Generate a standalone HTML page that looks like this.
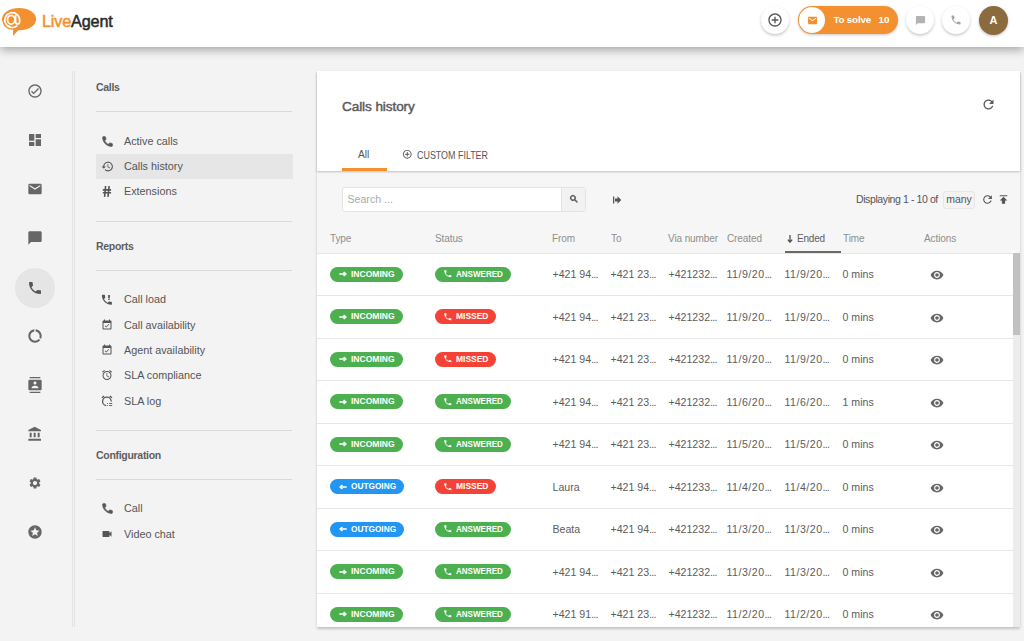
<!DOCTYPE html>
<html><head><meta charset="utf-8">
<style>
*{box-sizing:border-box;margin:0;padding:0}
html,body{width:1024px;height:641px;overflow:hidden;background:#f3f3f3;font-family:"Liberation Sans",sans-serif;color:#555}
.abs{position:absolute}
svg{display:block}
#hdr{position:absolute;left:0;top:0;width:1024px;height:46.5px;background:#fff;box-shadow:0 3px 9px rgba(0,0,0,.32);z-index:5}
.cbtn{position:absolute;top:6px;width:28px;height:28px;border-radius:50%;background:#fff;box-shadow:0 1.5px 3px rgba(0,0,0,.22)}
.cbtn svg{position:absolute}
.nav{position:absolute;left:27px;width:16px;height:16px}
.vl{position:absolute;top:71px;height:556px;width:1px;background:#e3e3e3}
.sm-h{position:absolute;left:96px;font-size:10.5px;font-weight:bold;color:#5e5e5e;letter-spacing:-0.3px}
.sm-l{position:absolute;left:96px;width:196px;height:1px;background:#d9d9d9}
.sm-i{position:absolute;left:124px;font-size:10.8px;color:#555;white-space:nowrap}
.sm-ic{position:absolute;left:101px;width:12px;height:12px}
#card{position:absolute;left:317px;top:71px;width:702.7px;height:556px;background:#f6f6f6;box-shadow:0 1.5px 2.5px rgba(0,0,0,.2)}
#chead{position:absolute;left:0;top:0;width:702.7px;height:100px;background:#fff;box-shadow:0 1px 2px rgba(0,0,0,.22)}
.th{position:absolute;top:162px;font-size:10px;color:#8e8e8e;white-space:nowrap;letter-spacing:-0.1px}
.row{position:absolute;left:0;width:696px;height:42.5px;background:#fff;border-top:1px solid #e6e6e6}
.c{position:absolute;top:14.5px;font-size:10.6px;color:#5c5c5c;white-space:nowrap}
.pill{position:absolute;top:13.2px;height:15px;border-radius:8px;color:#fff;font-size:9.8px;font-weight:bold;line-height:15px;white-space:nowrap}
.el{letter-spacing:-0.7px}
.dt{letter-spacing:0.5px}
.g{background:#4caf50}.r{background:#f44336}.b{background:#2196f3}
.pill svg{position:absolute;top:3.5px}
.pt{position:absolute;top:-0.8px;transform-origin:0 50%}
.arr{position:absolute;left:8px;top:-1px;font-size:10px;font-weight:bold}
.eye{position:absolute;left:612.5px;top:14.5px;width:14px;height:14px}
</style></head><body>

<div id="hdr">
  <svg class="abs" style="left:0;top:0" width="40" height="40" viewBox="0 0 40 40">
    <ellipse cx="19.1" cy="19.2" rx="17" ry="11.1" fill="#f39130"/>
    <circle cx="12" cy="20.2" r="9.6" fill="#f39130"/>
    <path d="M13.2 27 L21 27.5 L13 36 Z" fill="#f39130"/>
    <path d="M17.2 25.6 A7.4 7.4 0 1 1 19.6 19.6 L19.6 21.5 Q19.6 24 17.6 24 Q15.6 24 15.6 21.5 L15.6 15" fill="none" stroke="#fff" stroke-width="1.7"/>
    <ellipse cx="11.2" cy="19.7" rx="3.7" ry="4.4" fill="none" stroke="#fff" stroke-width="1.7"/>
  </svg>
  <div class="abs" style="left:42px;top:11.6px;font-size:16.2px;font-weight:normal;-webkit-text-stroke:0.5px;letter-spacing:-0.15px;white-space:nowrap"><span style="color:#f39130">Live</span><span style="color:#2a2a2a">Agent</span></div>

  <div class="cbtn" style="left:761px"><svg style="left:6px;top:6px" width="16" height="16" viewBox="0 0 24 24"><path fill="#555" d="M13 7h-2v4H7v2h4v4h2v-4h4v-2h-4V7zm-1-5C6.48 2 2 6.48 2 12s4.48 10 10 10 10-4.48 10-10S17.52 2 12 2zm0 18c-4.41 0-8-3.59-8-8s3.59-8 8-8 8 3.59 8 8-3.59 8-8 8z"/></svg></div>
  <div class="abs" style="left:797.5px;top:6px;width:100px;height:28px;border-radius:14px;background:#f39130;box-shadow:0 1px 3px rgba(0,0,0,.22)">
    <div class="abs" style="left:1.5px;top:1px;width:26px;height:26px;border-radius:50%;background:#fff"></div>
    <svg class="abs" style="left:9px;top:8.5px" width="11" height="11" viewBox="0 0 24 24"><path fill="#f39130" d="M20 4H4c-1.1 0-1.99.9-1.99 2L2 18c0 1.1.9 2 2 2h16c1.1 0 2-.9 2-2V6c0-1.1-.9-2-2-2zm0 4l-8 5-8-5V6l8 5 8-5v2z"/></svg>
    <div class="abs" style="left:36px;top:8px;font-size:9.8px;font-weight:bold;color:#fff;white-space:nowrap;letter-spacing:-0.2px">To solve</div>
    <div class="abs" style="left:81px;top:8px;font-size:9.8px;font-weight:bold;color:#fff">10</div>
  </div>
  <div class="cbtn" style="left:906px"><svg style="left:8.5px;top:8.5px" width="11" height="11" viewBox="0 0 24 24"><path fill="#b3b3b3" d="M20 2H4c-1.1 0-2 .9-2 2v18l4-4h14c1.1 0 2-.9 2-2V4c0-1.1-.9-2-2-2z"/></svg></div>
  <div class="cbtn" style="left:942px"><svg style="left:8px;top:8px" width="12" height="12" viewBox="0 0 24 24"><path fill="#a5a5a5" d="M6.62 10.79c1.44 2.83 3.76 5.14 6.59 6.59l2.2-2.2c.27-.27.67-.36 1.02-.24 1.12.37 2.330.57 3.57.57.55 0 1 .45 1 1V20c0 .55-.45 1-1 1-9.39 0-17-7.610-17-17 0-.55.45-1 1-1h3.5c.55 0 1 .45 1 1 0 1.25.2 2.45.57 3.57.11.35.03.74-.25 1.02l-2.2 2.2z"/></svg></div>
  <div class="abs" style="left:979px;top:5.5px;width:29px;height:29px;border-radius:50%;background:#8b6a3e;box-shadow:0 1px 3px rgba(0,0,0,.25);color:#fff;font-weight:bold;font-size:11px;text-align:center;line-height:29px">A</div>
</div>

<!-- left nav -->
<div class="abs" style="left:15px;top:267.5px;width:40px;height:40px;border-radius:50%;background:#e5e5e5"></div>
<svg class="nav" style="top:83px" viewBox="0 0 24 24"><path fill="#666" d="M12 2C6.48 2 2 6.48 2 12s4.48 10 10 10 10-4.48 10-10S17.52 2 12 2zm0 18c-4.41 0-8-3.59-8-8s3.59-8 8-8 8 3.59 8 8-3.59 8-8 8zm4.59-12.42L10 14.17l-2.59-2.58L6 13l4 4 8-8z"/></svg>
<svg class="nav" style="top:132px" viewBox="0 0 24 24"><path fill="#666" d="M3 13h8V3H3v10zm0 8h8v-6H3v6zm10 0h8V11h-8v10zm0-18v6h8V3h-8z"/></svg>
<svg class="nav" style="top:181px" viewBox="0 0 24 24"><path fill="#666" d="M20 4H4c-1.1 0-1.99.9-1.99 2L2 18c0 1.1.9 2 2 2h16c1.1 0 2-.9 2-2V6c0-1.1-.9-2-2-2zm0 4l-8 5-8-5V6l8 5 8-5v2z"/></svg>
<svg class="nav" style="top:230px" viewBox="0 0 24 24"><path fill="#666" d="M20 2H4c-1.1 0-2 .9-2 2v18l4-4h14c1.1 0 2-.9 2-2V4c0-1.1-.9-2-2-2z"/></svg>
<svg class="nav" style="top:279.5px" viewBox="0 0 24 24"><path fill="#555" d="M6.62 10.79c1.44 2.83 3.76 5.14 6.59 6.59l2.2-2.2c.27-.27.67-.36 1.02-.24 1.12.37 2.33.57 3.57.57.55 0 1 .45 1 1V20c0 .55-.45 1-1 1-9.39 0-17-7.61-17-17 0-.55.45-1 1-1h3.5c.55 0 1 .45 1 1 0 1.25.2 2.45.57 3.570.11.35.03.74-.25 1.02l-2.2 2.2z"/></svg>
<svg class="nav" style="top:328px" viewBox="0 0 24 24"><path fill="#666" d="M13 2.05v3.03c3.39.49 6 3.39 6 6.92 0 .9-.18 1.75-.48 2.54l2.6 1.530c.56-1.24.88-2.62.88-4.07 0-5.18-3.95-9.45-9-9.95zM12 19c-3.87 0-7-3.13-7-7 0-3.53 2.61-6.43 6-6.92V2.05c-5.06.5-9 4.76-9 9.95 0 5.52 4.47 10 9.99 10 3.31 0 6.24-1.61 8.06-4.09l-2.6-1.53C16.17 17.98 14.21 19 12 19z"/></svg>
<svg class="nav" style="top:377px" viewBox="0 0 24 24"><path fill="#666" d="M20 0H4v2h16V0zM4 24h16v-2H4v2zM20 4H4c-1.1 0-2 .9-2 2v12c0 1.1.9 2 2 2h16c1.1 0 2-.9 2-2V6c0-1.1-.9-2-2-2zm-8 2.75c1.24 0 2.25 1.01 2.25 2.25s-1.01 2.25-2.25 2.25S9.75 10.24 9.75 9 10.76 6.75 12 6.75zM17 17H7v-1.5c0-1.67 3.33-2.5 5-2.5s5 .83 5 2.5V17z"/></svg>
<svg class="nav" style="top:426px" viewBox="0 0 24 24"><path fill="#666" d="M4 10v7h3v-7H4zm6 0v7h3v-7h-3zM2 22h19v-3H2v3zm14-12v7h3v-7h-3zm-4.5-9L2 6v2h19V6l-9.5-5z"/></svg>
<svg class="nav" style="top:476px;left:28px;width:14px;height:14px" viewBox="0 0 24 24"><path fill="#666" d="M19.14 12.94c.04-.3.06-.61.06-.94 0-.32-.02-.64-.07-.94l2.03-1.58c.18-.14.23-.41.12-.61l-1.92-3.32c-.12-.22-.37-.29-.59-.22l-2.39.96c-.5-.38-1.03-.7-1.62-.94l-.36-2.54c-.04-.24-.24-.41-.48-.41h-3.84c-.24 0-.43.17-.47.41l-.36 2.54c-.59.24-1.130.57-1.62.94l-2.39-.96c-.22-.08-.47 0-.59.22L2.74 8.87c-.12.21-.08.47.12.61l2.03 1.58c-.05.3-.09.63-.09.94s.02.64.07.94l-2.03 1.58c-.18.14-.23.41-.12.61l1.92 3.32c.12.22.37.29.59.22l2.39-.96c.5.38 1.03.7 1.62.94l.36 2.54c.05.24.24.41.48.41h3.84c.24 0 .44-.17.47-.41l.36-2.54c.59-.24 1.13-.56 1.62-.94l2.39.96c.22.08.47 0 .59-.22l1.92-3.32c.12-.22.07-.47-.12-.61l-2.01-1.58zM12 15.6c-1.98 0-3.6-1.62-3.6-3.6s1.62-3.6 3.6-3.6 3.6 1.62 3.6 3.6-1.62 3.6-3.6 3.6z"/></svg>
<svg class="nav" style="top:524px" viewBox="0 0 24 24"><path fill="#666" d="M11.99 2C6.47 2 2 6.48 2 12s4.47 10 9.99 10C17.52 22 22 17.52 22 12S17.52 2 11.99 2zm4.24 16L12 15.45 7.77 18l1.12-4.81-3.73-3.23 4.92-.42L12 5l1.92 4.53 4.92.42-3.73 3.23L16.23 18z"/></svg>
<div class="vl" style="left:72px"></div>
<div class="vl" style="left:74px"></div>

<!-- sub menu -->
<div class="sm-h" style="top:81px">Calls</div>
<div class="sm-l" style="top:111px"></div>
<div class="abs" style="left:96px;top:154px;width:196.5px;height:25px;background:#e6e6e6"></div>
<svg class="sm-ic" style="top:134.5px;left:100.5px;width:13px;height:13px" viewBox="0 0 24 24"><path fill="#555" stroke="#555" stroke-width="1.3" d="M6.62 10.79c1.44 2.83 3.76 5.14 6.59 6.59l2.2-2.2c.27-.27.67-.36 1.02-.24 1.12.37 2.33.57 3.57.57.55 0 1 .45 1 1V20c0 .55-.45 1-1 1-9.39 0-17-7.61-17-17 0-.55.45-1 1-1h3.5c.55 0 1 .45 1 1 0 1.25.2 2.45.57 3.57.11.35.03.74-.25 1.02l-2.2 2.2z"/></svg>
<svg class="sm-ic" style="top:159.5px;left:100.5px;width:13px;height:13px" viewBox="0 0 24 24"><path fill="#555" d="M13 3c-4.97 0-9 4.03-9 9H1l3.89 3.89.07.14L9 12H6c0-3.87 3.13-7 7-7s7 3.13 7 7-3.13 7-7 7c-1.93 0-3.68-.79-4.94-2.06l-1.42 1.42C8.27 19.99 10.51 21 13 21c4.97 0 9-4.03 9-9s-4.03-9-9-9zm-1 5v5l4.28 2.54.72-1.21-3.5-2.08V8H12z"/></svg>
<svg class="abs" style="left:100px;top:184px" width="14" height="14" viewBox="0 0 14 14"><path fill="none" stroke="#555" stroke-width="1.6" d="M5.6 2L4.6 12.9M9.1 2L8 12.9M2.8 5.9H11.1M2.8 8.8H11.1"/></svg>
<svg class="abs" style="left:100px;top:292px" width="14" height="14" viewBox="0 0 14 14"><path fill="#555" transform="translate(1.9 2.8) scale(0.555) translate(-3 -3)" d="M6.62 10.79c1.44 2.83 3.76 5.14 6.59 6.59l2.2-2.2c.27-.27.67-.36 1.02-.24 1.12.37 2.33.57 3.57.57.55 0 1 .45 1 1V20c0 .55-.45 1-1 1-9.39 0-17-7.61-17-17 0-.55.45-1 1-1h3.5c.55 0 1 .45 1 1 0 1.25.2 2.45.57 3.57.11.35.03.74-.25 1.02l-2.2 2.2z"/><rect x="8.1" y="3" width="1.8" height="3.2" fill="#555"/><rect x="8.1" y="6.8" width="1.8" height="1.1" fill="#555"/></svg>
<svg class="sm-ic" style="top:319px" viewBox="0 0 24 24"><path fill="#555" d="M16.53 11.06L15.47 10l-4.88 4.88-2.12-2.12-1.06 1.06L10.59 17l5.94-5.94zM19 3h-1V1h-2v2H8V1H6v2H5c-1.11 0-1.99.9-1.99 2L3 19c0 1.1.89 2 2 2h14c1.1 0 2-.9 2-2V5c0-1.1-.9-2-2-2zm0 16H5V8h14v11z"/></svg>
<svg class="sm-ic" style="top:344px" viewBox="0 0 24 24"><path fill="#555" d="M16.53 11.06L15.47 10l-4.88 4.88-2.12-2.12-1.06 1.06L10.59 17l5.94-5.94zM19 3h-1V1h-2v2H8V1H6v2H5c-1.11 0-1.99.9-1.99 2L3 19c0 1.1.89 2 2 2h14c1.1 0 2-.9 2-2V5c0-1.1-.9-2-2-2zm0 16H5V8h14v11z"/></svg>
<svg class="sm-ic" style="top:369px" viewBox="0 0 24 24"><path fill="#555" d="M22 5.72l-4.6-3.86-1.29 1.53 4.6 3.86L22 5.72zM7.88 3.39L6.6 1.86 2 5.71l1.29 1.53 4.59-3.85zM12.5 8H11v6l4.75 2.85.75-1.23-4-2.37V8zM12 4c-4.97 0-9 4.03-9 9s4.02 9 9 9c4.97 0 9-4.03 9-9s-4.03-9-9-9zm0 16c-3.87 0-7-3.13-7-7s3.13-7 7-7 7 3.13 7 7-3.13 7-7 7z"/></svg>
<svg class="abs" style="left:100px;top:394px" width="14" height="14" viewBox="0 0 14 14"><g fill="none" stroke="#555" stroke-width="1.3"><path d="M6.15 11.63A4.3 4.3 0 1 1 11.19 7.63"/><path d="M1.9 3.8L4.1 2.1M12 3.8L9.8 2.1"/></g><g fill="#555"><rect x="7" y="9" width="0.9" height="0.9"/><rect x="9.1" y="9" width="3.1" height="0.9"/><rect x="7" y="11.1" width="0.9" height="0.9"/><rect x="9.1" y="11.1" width="3.1" height="0.9"/></g></svg>
<svg class="sm-ic" style="top:501.5px;left:100.5px;width:13px;height:13px" viewBox="0 0 24 24"><path fill="#555" stroke="#555" stroke-width="1.3" d="M6.62 10.79c1.44 2.83 3.76 5.14 6.59 6.59l2.2-2.2c.27-.27.67-.36 1.02-.24 1.12.37 2.33.57 3.57.57.55 0 1 .45 1 1V20c0 .55-.45 1-1 1-9.39 0-17-7.61-17-17 0-.55.45-1 1-1h3.5c.55 0 1 .45 1 1 0 1.25.2 2.45.57 3.57.11.35.03.74-.25 1.02l-2.2 2.2z"/></svg>
<svg class="sm-ic" style="top:528px" viewBox="0 0 24 24"><path fill="#555" d="M17 10.5V7c0-.55-.45-1-1-1H4c-.55 0-1 .45-1 1v10c0 .55.45 1 1 1h12c.55 0 1-.45 1-1v-3.5l4 4v-11l-4 4z"/></svg>
<div class="sm-i" style="top:135px">Active calls</div>
<div class="sm-i" style="top:160px">Calls history</div>
<div class="sm-i" style="top:185px">Extensions</div>
<div class="sm-l" style="top:221px"></div>
<div class="sm-h" style="top:240px">Reports</div>
<div class="sm-l" style="top:270px"></div>
<div class="sm-i" style="top:293px">Call load</div>
<div class="sm-i" style="top:319px">Call availability</div>
<div class="sm-i" style="top:344px">Agent availability</div>
<div class="sm-i" style="top:369px">SLA compliance</div>
<div class="sm-i" style="top:395px">SLA log</div>
<div class="sm-l" style="top:430px"></div>
<div class="sm-h" style="top:449px">Configuration</div>
<div class="sm-l" style="top:479px"></div>
<div class="sm-i" style="top:502px">Call</div>
<div class="sm-i" style="top:528px">Video chat</div>

<div id="card">
  <div id="chead">
    <div class="abs" style="left:25px;top:27.5px;font-size:13.6px;font-weight:normal;-webkit-text-stroke:0.45px;color:#5a5a5a;white-space:nowrap;letter-spacing:-0.1px">Calls history</div>
    <svg class="abs" style="left:663.5px;top:26px" width="15" height="15" viewBox="0 0 24 24"><path fill="#5a5a5a" d="M17.650 6.35C16.2 4.9 14.21 4 12 4c-4.42 0-7.99 3.58-7.99 8s3.57 8 7.99 8c3.73 0 6.84-2.55 7.730-6h-2.08c-.82 2.33-3.04 4-5.65 4-3.31 0-6-2.69-6-6s2.69-6 6-6c1.66 0 3.14.69 4.22 1.78L13 11h7V4l-2.35 2.35z"/></svg>
    <div class="abs" style="left:41px;top:78px;font-size:10.2px;color:#555">All</div>
    <div class="abs" style="left:24.5px;top:97px;width:45px;height:3px;background:#f39130"></div>
    <svg class="abs" style="left:85px;top:78px" width="10.5" height="10.5" viewBox="0 0 24 24"><path fill="#555" d="M13 7h-2v4H7v2h4v4h2v-4h4v-2h-4V7zm-1-5C6.48 2 2 6.48 2 12s4.48 10 10 10 10-4.48 10-10S17.52 2 12 2zm0 18c-4.41 0-8-3.59-8-8s3.59-8 8-8 8 3.59 8 8-3.59 8-8 8z"/></svg>
    <div class="abs" style="left:100px;top:78.6px;font-size:10.3px;color:#555;white-space:nowrap;transform:scaleX(.866);transform-origin:0 50%">CUSTOM FILTER</div>
  </div>

  <!-- toolbar -->
  <div class="abs" style="left:24.5px;top:116px;width:244px;height:24.5px;border:1px solid #e3e3e3;border-radius:3px;background:#fff;overflow:hidden">
    <div class="abs" style="left:5px;top:5px;font-size:10.6px;color:#aaa;white-space:nowrap">Search ...</div>
    <div class="abs" style="left:218px;top:0;width:26px;height:23px;background:#f2f2f2;border-left:1px solid #e3e3e3"></div>
    <svg class="abs" style="left:226px;top:6px" width="10" height="10" viewBox="0 0 24 24"><path fill="#555" stroke="#555" stroke-width="1.6" d="M15.5 14h-.79l-.28-.27C15.41 12.59 16 11.11 16 9.5 16 5.91 13.09 3 9.5 3S3 5.91 3 9.5 5.91 16 9.5 16c1.61 0 3.09-.59 4.23-1.57l.27.28v.79l5 4.99L20.49 19l-4.99-5zm-6 0C7.01 14 5 11.99 5 9.5S7.01 5 9.5 5 14 7.01 14 9.5 11.99 14 9.5 14z"/></svg>
  </div>
  <svg class="abs" style="left:294px;top:122.5px" width="12" height="12" viewBox="0 0 24 24"><path fill="#555" d="M4 5h2.5v14H4z M8 9h5V4.5L20.5 12 13 19.5V15H8z"/></svg>
  <div class="abs" style="left:539px;top:122px;font-size:10.5px;color:#555;white-space:nowrap;letter-spacing:-0.4px">Displaying 1 - 10 of</div>
  <div class="abs" style="left:626px;top:119.5px;width:32px;height:18px;border:1px solid #e6e6e6;border-radius:3px;background:#f3f3f3;font-size:10.5px;color:#555;line-height:14.5px;text-align:center">many</div>
  <svg class="abs" style="left:663.5px;top:121.5px" width="13" height="13" viewBox="0 0 24 24"><path fill="#555" d="M17.65 6.35C16.2 4.9 14.21 4 12 4c-4.42 0-7.99 3.58-7.99 8s3.57 8 7.99 8c3.73 0 6.84-2.55 7.73-6h-2.08c-.82 2.33-3.04 4-5.65 4-3.31 0-6-2.69-6-6s2.69-6 6-6c1.66 0 3.14.69 4.22 1.78L13 11h7V4l-2.35 2.35z"/></svg>
  <svg class="abs" style="left:679.5px;top:121.5px" width="13" height="13" viewBox="0 0 24 24"><path fill="#555" d="M5 4v2h14V4H5zm0 10h4v6h6v-6h4l-7-7-7 7z"/></svg>

  <!-- table header -->
  <div class="th" style="left:13px">Type</div>
  <div class="th" style="left:118px">Status</div>
  <div class="th" style="left:235px">From</div>
  <div class="th" style="left:294px">To</div>
  <div class="th" style="left:351px">Via number</div>
  <div class="th" style="left:410px">Created</div>
  <svg class="abs" style="left:469.5px;top:164px" width="6" height="8" viewBox="0 0 6 8"><path fill="none" stroke="#505050" stroke-width="1.3" d="M3 0V7M0.8 4.6L3 7.2 5.2 4.6"/></svg><div class="th" style="left:480px;color:#606060;letter-spacing:-0.2px">Ended</div>
  <div class="abs" style="left:468px;top:180px;width:56px;height:2px;background:#6a6a6a"></div>
  <div class="th" style="left:526px">Time</div>
  <div class="th" style="left:607px">Actions</div>

  <div id="rows" class="abs" style="left:0;top:181.5px;width:702px;height:374.5px;overflow:hidden;background:#fff">
<div class="row" style="top:0.0px"><div class="pill g" style="left:13px;width:73px"><svg style="left:9px;top:3.5px" width="8" height="8" viewBox="0 0 8 8"><path fill="none" stroke="#fff" stroke-width="1.6" d="M0.3 4H6.5M4.6 2L6.8 4 4.6 6"/></svg><span class="pt" style="left:20.5px;transform:scaleX(.87)">INCOMING</span></div><div class="pill g" style="left:118px;width:75.5px"><svg style="left:7.8px;top:2.7px" width="9.5" height="9.5" viewBox="0 0 24 24"><path fill="#fff" d="M6.62 10.79c1.44 2.83 3.76 5.14 6.59 6.59l2.2-2.2c.27-.27.67-.36 1.02-.24 1.12.37 2.33.57 3.57.57.55 0 1 .45 1 1V20c0 .55-.45 1-1 1-9.39 0-17-7.61-17-17 0-.55.45-1 1-1h3.5c.55 0 1 .45 1 1 0 1.25.2 2.45.57 3.57.11.35.03.74-.25 1.02l-2.2 2.2z"/></svg><span class="pt" style="left:20.5px;transform:scaleX(.82)">ANSWERED</span></div><div class="c" style="left:235.5px">+421 94<span class="el">...</span></div><div class="c" style="left:293.5px">+421 23<span class="el">...</span></div><div class="c" style="left:351.5px">+421232<span class="el">...</span></div><div class="c dt" style="left:409.5px">11/9/20<span class="el">...</span></div><div class="c dt" style="left:467.5px">11/9/20<span class="el">...</span></div><div class="c" style="left:525.5px">0 mins</div><svg class="eye" viewBox="0 0 24 24"><path fill="#666" d="M12 4.5C7 4.5 2.73 7.61 1 12c1.73 4.39 6 7.5 11 7.5s9.27-3.11 11-7.5c-1.73-4.39-6-7.5-11-7.5zM12 17c-2.76 0-5-2.24-5-5s2.24-5 5-5 5 2.24 5 5-2.24 5-5 5zm0-8c-1.66 0-3 1.34-3 3s1.34 3 3 3 3-1.34 3-3-1.34-3-3-3z"/></svg></div>
<div class="row" style="top:42.5px"><div class="pill g" style="left:13px;width:73px"><svg style="left:9px;top:3.5px" width="8" height="8" viewBox="0 0 8 8"><path fill="none" stroke="#fff" stroke-width="1.6" d="M0.3 4H6.5M4.6 2L6.8 4 4.6 6"/></svg><span class="pt" style="left:20.5px;transform:scaleX(.87)">INCOMING</span></div><div class="pill r" style="left:118px;width:61px"><svg style="left:7.8px;top:2.7px" width="9.5" height="9.5" viewBox="0 0 24 24"><path fill="#fff" d="M6.62 10.79c1.44 2.83 3.76 5.14 6.59 6.59l2.2-2.2c.27-.27.67-.36 1.02-.24 1.12.37 2.33.57 3.57.57.55 0 1 .45 1 1V20c0 .55-.45 1-1 1-9.39 0-17-7.61-17-17 0-.55.45-1 1-1h3.5c.55 0 1 .45 1 1 0 1.25.2 2.45.57 3.57.11.35.03.74-.25 1.02l-2.2 2.2z"/></svg><span class="pt" style="left:20.5px;transform:scaleX(.864)">MISSED</span></div><div class="c" style="left:235.5px">+421 94<span class="el">...</span></div><div class="c" style="left:293.5px">+421 23<span class="el">...</span></div><div class="c" style="left:351.5px">+421232<span class="el">...</span></div><div class="c dt" style="left:409.5px">11/9/20<span class="el">...</span></div><div class="c dt" style="left:467.5px">11/9/20<span class="el">...</span></div><div class="c" style="left:525.5px">0 mins</div><svg class="eye" viewBox="0 0 24 24"><path fill="#666" d="M12 4.5C7 4.5 2.73 7.61 1 12c1.73 4.39 6 7.5 11 7.5s9.27-3.11 11-7.5c-1.73-4.39-6-7.5-11-7.5zM12 17c-2.76 0-5-2.24-5-5s2.24-5 5-5 5 2.24 5 5-2.24 5-5 5zm0-8c-1.66 0-3 1.34-3 3s1.34 3 3 3 3-1.34 3-3-1.34-3-3-3z"/></svg></div>
<div class="row" style="top:85.0px"><div class="pill g" style="left:13px;width:73px"><svg style="left:9px;top:3.5px" width="8" height="8" viewBox="0 0 8 8"><path fill="none" stroke="#fff" stroke-width="1.6" d="M0.3 4H6.5M4.6 2L6.8 4 4.6 6"/></svg><span class="pt" style="left:20.5px;transform:scaleX(.87)">INCOMING</span></div><div class="pill r" style="left:118px;width:61px"><svg style="left:7.8px;top:2.7px" width="9.5" height="9.5" viewBox="0 0 24 24"><path fill="#fff" d="M6.62 10.79c1.44 2.83 3.76 5.14 6.59 6.59l2.2-2.2c.27-.27.67-.36 1.02-.24 1.12.37 2.33.57 3.57.57.55 0 1 .45 1 1V20c0 .55-.45 1-1 1-9.39 0-17-7.61-17-17 0-.55.45-1 1-1h3.5c.55 0 1 .45 1 1 0 1.25.2 2.45.57 3.57.11.35.03.74-.25 1.02l-2.2 2.2z"/></svg><span class="pt" style="left:20.5px;transform:scaleX(.864)">MISSED</span></div><div class="c" style="left:235.5px">+421 94<span class="el">...</span></div><div class="c" style="left:293.5px">+421 23<span class="el">...</span></div><div class="c" style="left:351.5px">+421232<span class="el">...</span></div><div class="c dt" style="left:409.5px">11/9/20<span class="el">...</span></div><div class="c dt" style="left:467.5px">11/9/20<span class="el">...</span></div><div class="c" style="left:525.5px">0 mins</div><svg class="eye" viewBox="0 0 24 24"><path fill="#666" d="M12 4.5C7 4.5 2.73 7.61 1 12c1.73 4.39 6 7.5 11 7.5s9.27-3.11 11-7.5c-1.73-4.39-6-7.5-11-7.5zM12 17c-2.76 0-5-2.24-5-5s2.24-5 5-5 5 2.24 5 5-2.24 5-5 5zm0-8c-1.66 0-3 1.34-3 3s1.34 3 3 3 3-1.34 3-3-1.34-3-3-3z"/></svg></div>
<div class="row" style="top:127.5px"><div class="pill g" style="left:13px;width:73px"><svg style="left:9px;top:3.5px" width="8" height="8" viewBox="0 0 8 8"><path fill="none" stroke="#fff" stroke-width="1.6" d="M0.3 4H6.5M4.6 2L6.8 4 4.6 6"/></svg><span class="pt" style="left:20.5px;transform:scaleX(.87)">INCOMING</span></div><div class="pill g" style="left:118px;width:75.5px"><svg style="left:7.8px;top:2.7px" width="9.5" height="9.5" viewBox="0 0 24 24"><path fill="#fff" d="M6.62 10.79c1.44 2.83 3.76 5.14 6.59 6.59l2.2-2.2c.27-.27.67-.36 1.02-.24 1.12.37 2.33.57 3.57.57.55 0 1 .45 1 1V20c0 .55-.45 1-1 1-9.39 0-17-7.61-17-17 0-.55.45-1 1-1h3.5c.55 0 1 .45 1 1 0 1.25.2 2.45.57 3.57.11.35.03.74-.25 1.02l-2.2 2.2z"/></svg><span class="pt" style="left:20.5px;transform:scaleX(.82)">ANSWERED</span></div><div class="c" style="left:235.5px">+421 94<span class="el">...</span></div><div class="c" style="left:293.5px">+421 23<span class="el">...</span></div><div class="c" style="left:351.5px">+421232<span class="el">...</span></div><div class="c dt" style="left:409.5px">11/6/20<span class="el">...</span></div><div class="c dt" style="left:467.5px">11/6/20<span class="el">...</span></div><div class="c" style="left:525.5px">1 mins</div><svg class="eye" viewBox="0 0 24 24"><path fill="#666" d="M12 4.5C7 4.5 2.73 7.61 1 12c1.73 4.39 6 7.5 11 7.5s9.27-3.11 11-7.5c-1.73-4.39-6-7.5-11-7.5zM12 17c-2.76 0-5-2.24-5-5s2.24-5 5-5 5 2.24 5 5-2.24 5-5 5zm0-8c-1.66 0-3 1.34-3 3s1.34 3 3 3 3-1.34 3-3-1.34-3-3-3z"/></svg></div>
<div class="row" style="top:170.0px"><div class="pill g" style="left:13px;width:73px"><svg style="left:9px;top:3.5px" width="8" height="8" viewBox="0 0 8 8"><path fill="none" stroke="#fff" stroke-width="1.6" d="M0.3 4H6.5M4.6 2L6.8 4 4.6 6"/></svg><span class="pt" style="left:20.5px;transform:scaleX(.87)">INCOMING</span></div><div class="pill g" style="left:118px;width:75.5px"><svg style="left:7.8px;top:2.7px" width="9.5" height="9.5" viewBox="0 0 24 24"><path fill="#fff" d="M6.62 10.79c1.44 2.83 3.76 5.14 6.59 6.59l2.2-2.2c.27-.27.67-.36 1.02-.24 1.12.37 2.33.57 3.57.57.55 0 1 .45 1 1V20c0 .55-.45 1-1 1-9.39 0-17-7.61-17-17 0-.55.45-1 1-1h3.5c.55 0 1 .45 1 1 0 1.25.2 2.45.57 3.57.11.35.03.74-.25 1.02l-2.2 2.2z"/></svg><span class="pt" style="left:20.5px;transform:scaleX(.82)">ANSWERED</span></div><div class="c" style="left:235.5px">+421 94<span class="el">...</span></div><div class="c" style="left:293.5px">+421 23<span class="el">...</span></div><div class="c" style="left:351.5px">+421232<span class="el">...</span></div><div class="c dt" style="left:409.5px">11/5/20<span class="el">...</span></div><div class="c dt" style="left:467.5px">11/5/20<span class="el">...</span></div><div class="c" style="left:525.5px">0 mins</div><svg class="eye" viewBox="0 0 24 24"><path fill="#666" d="M12 4.5C7 4.5 2.73 7.61 1 12c1.73 4.39 6 7.5 11 7.5s9.27-3.11 11-7.5c-1.73-4.39-6-7.5-11-7.5zM12 17c-2.76 0-5-2.24-5-5s2.24-5 5-5 5 2.24 5 5-2.24 5-5 5zm0-8c-1.66 0-3 1.34-3 3s1.34 3 3 3 3-1.34 3-3-1.34-3-3-3z"/></svg></div>
<div class="row" style="top:212.5px"><div class="pill b" style="left:13px;width:73.5px"><svg style="left:8.5px;top:3.5px" width="8" height="8" viewBox="0 0 8 8"><path fill="none" stroke="#fff" stroke-width="1.6" d="M7.7 4H1.5M3.4 2L1.2 4 3.4 6"/></svg><span class="pt" style="left:20.5px;transform:scaleX(.845)">OUTGOING</span></div><div class="pill r" style="left:118px;width:61px"><svg style="left:7.8px;top:2.7px" width="9.5" height="9.5" viewBox="0 0 24 24"><path fill="#fff" d="M6.62 10.79c1.44 2.83 3.76 5.14 6.59 6.59l2.2-2.2c.27-.27.67-.36 1.02-.24 1.12.37 2.33.57 3.57.57.55 0 1 .45 1 1V20c0 .55-.45 1-1 1-9.39 0-17-7.61-17-17 0-.55.45-1 1-1h3.5c.55 0 1 .45 1 1 0 1.25.2 2.45.57 3.57.11.35.03.74-.25 1.02l-2.2 2.2z"/></svg><span class="pt" style="left:20.5px;transform:scaleX(.864)">MISSED</span></div><div class="c" style="left:235.5px">Laura</div><div class="c" style="left:293.5px">+421 94<span class="el">...</span></div><div class="c" style="left:351.5px">+421233<span class="el">...</span></div><div class="c dt" style="left:409.5px">11/4/20<span class="el">...</span></div><div class="c dt" style="left:467.5px">11/4/20<span class="el">...</span></div><div class="c" style="left:525.5px">0 mins</div><svg class="eye" viewBox="0 0 24 24"><path fill="#666" d="M12 4.5C7 4.5 2.73 7.61 1 12c1.73 4.39 6 7.5 11 7.5s9.27-3.11 11-7.5c-1.73-4.39-6-7.5-11-7.5zM12 17c-2.76 0-5-2.24-5-5s2.24-5 5-5 5 2.24 5 5-2.24 5-5 5zm0-8c-1.66 0-3 1.34-3 3s1.34 3 3 3 3-1.34 3-3-1.34-3-3-3z"/></svg></div>
<div class="row" style="top:255.0px"><div class="pill b" style="left:13px;width:73.5px"><svg style="left:8.5px;top:3.5px" width="8" height="8" viewBox="0 0 8 8"><path fill="none" stroke="#fff" stroke-width="1.6" d="M7.7 4H1.5M3.4 2L1.2 4 3.4 6"/></svg><span class="pt" style="left:20.5px;transform:scaleX(.845)">OUTGOING</span></div><div class="pill g" style="left:118px;width:75.5px"><svg style="left:7.8px;top:2.7px" width="9.5" height="9.5" viewBox="0 0 24 24"><path fill="#fff" d="M6.62 10.79c1.44 2.83 3.76 5.14 6.59 6.59l2.2-2.2c.27-.27.67-.36 1.02-.24 1.12.37 2.33.57 3.57.57.55 0 1 .45 1 1V20c0 .55-.45 1-1 1-9.39 0-17-7.61-17-17 0-.55.45-1 1-1h3.5c.55 0 1 .45 1 1 0 1.25.2 2.45.57 3.57.11.35.03.74-.25 1.02l-2.2 2.2z"/></svg><span class="pt" style="left:20.5px;transform:scaleX(.82)">ANSWERED</span></div><div class="c" style="left:235.5px">Beata</div><div class="c" style="left:293.5px">+421 94<span class="el">...</span></div><div class="c" style="left:351.5px">+421232<span class="el">...</span></div><div class="c dt" style="left:409.5px">11/3/20<span class="el">...</span></div><div class="c dt" style="left:467.5px">11/3/20<span class="el">...</span></div><div class="c" style="left:525.5px">0 mins</div><svg class="eye" viewBox="0 0 24 24"><path fill="#666" d="M12 4.5C7 4.5 2.73 7.61 1 12c1.73 4.39 6 7.5 11 7.5s9.27-3.11 11-7.5c-1.73-4.39-6-7.5-11-7.5zM12 17c-2.76 0-5-2.24-5-5s2.24-5 5-5 5 2.24 5 5-2.24 5-5 5zm0-8c-1.66 0-3 1.34-3 3s1.34 3 3 3 3-1.34 3-3-1.34-3-3-3z"/></svg></div>
<div class="row" style="top:297.5px"><div class="pill g" style="left:13px;width:73px"><svg style="left:9px;top:3.5px" width="8" height="8" viewBox="0 0 8 8"><path fill="none" stroke="#fff" stroke-width="1.6" d="M0.3 4H6.5M4.6 2L6.8 4 4.6 6"/></svg><span class="pt" style="left:20.5px;transform:scaleX(.87)">INCOMING</span></div><div class="pill g" style="left:118px;width:75.5px"><svg style="left:7.8px;top:2.7px" width="9.5" height="9.5" viewBox="0 0 24 24"><path fill="#fff" d="M6.62 10.79c1.44 2.83 3.76 5.14 6.59 6.59l2.2-2.2c.27-.27.67-.36 1.02-.24 1.12.37 2.33.57 3.57.57.55 0 1 .45 1 1V20c0 .55-.45 1-1 1-9.39 0-17-7.61-17-17 0-.55.45-1 1-1h3.5c.55 0 1 .45 1 1 0 1.25.2 2.45.57 3.57.11.35.03.74-.25 1.02l-2.2 2.2z"/></svg><span class="pt" style="left:20.5px;transform:scaleX(.82)">ANSWERED</span></div><div class="c" style="left:235.5px">+421 94<span class="el">...</span></div><div class="c" style="left:293.5px">+421 23<span class="el">...</span></div><div class="c" style="left:351.5px">+421232<span class="el">...</span></div><div class="c dt" style="left:409.5px">11/3/20<span class="el">...</span></div><div class="c dt" style="left:467.5px">11/3/20<span class="el">...</span></div><div class="c" style="left:525.5px">0 mins</div><svg class="eye" viewBox="0 0 24 24"><path fill="#666" d="M12 4.5C7 4.5 2.73 7.61 1 12c1.73 4.39 6 7.5 11 7.5s9.27-3.11 11-7.5c-1.73-4.39-6-7.5-11-7.5zM12 17c-2.76 0-5-2.24-5-5s2.24-5 5-5 5 2.24 5 5-2.24 5-5 5zm0-8c-1.66 0-3 1.34-3 3s1.34 3 3 3 3-1.34 3-3-1.34-3-3-3z"/></svg></div>
<div class="row" style="top:340.0px"><div class="pill g" style="left:13px;width:73px"><svg style="left:9px;top:3.5px" width="8" height="8" viewBox="0 0 8 8"><path fill="none" stroke="#fff" stroke-width="1.6" d="M0.3 4H6.5M4.6 2L6.8 4 4.6 6"/></svg><span class="pt" style="left:20.5px;transform:scaleX(.87)">INCOMING</span></div><div class="pill g" style="left:118px;width:75.5px"><svg style="left:7.8px;top:2.7px" width="9.5" height="9.5" viewBox="0 0 24 24"><path fill="#fff" d="M6.62 10.79c1.44 2.83 3.76 5.14 6.59 6.59l2.2-2.2c.27-.27.67-.36 1.02-.24 1.12.37 2.33.57 3.57.57.55 0 1 .45 1 1V20c0 .55-.45 1-1 1-9.39 0-17-7.61-17-17 0-.55.45-1 1-1h3.5c.55 0 1 .45 1 1 0 1.25.2 2.45.57 3.57.11.35.03.74-.25 1.02l-2.2 2.2z"/></svg><span class="pt" style="left:20.5px;transform:scaleX(.82)">ANSWERED</span></div><div class="c" style="left:235.5px">+421 91<span class="el">...</span></div><div class="c" style="left:293.5px">+421 23<span class="el">...</span></div><div class="c" style="left:351.5px">+421232<span class="el">...</span></div><div class="c dt" style="left:409.5px">11/2/20<span class="el">...</span></div><div class="c dt" style="left:467.5px">11/2/20<span class="el">...</span></div><div class="c" style="left:525.5px">0 mins</div><svg class="eye" viewBox="0 0 24 24"><path fill="#666" d="M12 4.5C7 4.5 2.73 7.61 1 12c1.73 4.39 6 7.5 11 7.5s9.27-3.11 11-7.5c-1.73-4.39-6-7.5-11-7.5zM12 17c-2.76 0-5-2.24-5-5s2.24-5 5-5 5 2.24 5 5-2.24 5-5 5zm0-8c-1.66 0-3 1.34-3 3s1.34 3 3 3 3-1.34 3-3-1.34-3-3-3z"/></svg></div>
  </div>
  <div class="abs" style="left:696px;top:182px;width:6.7px;height:374px;background:#ececec"></div>
  <div class="abs" style="left:696px;top:182px;width:6.7px;height:82px;background:#c1c1c1"></div>
</div>

</body></html>
